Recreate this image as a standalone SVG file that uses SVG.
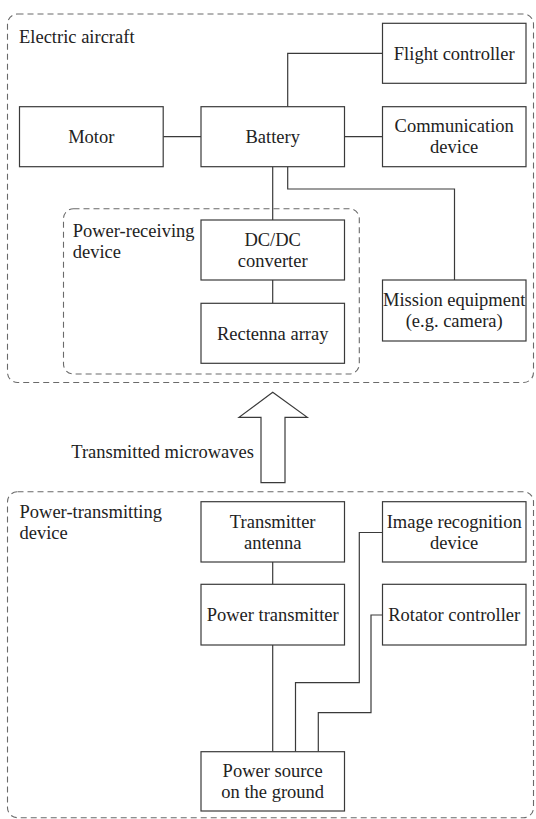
<svg xmlns="http://www.w3.org/2000/svg" width="536" height="819" viewBox="0 0 536 819">
<style>
  .box { fill: #ffffff; stroke: #3a3a3a; stroke-width: 1.2; }
  .grp { fill: none; stroke: #6a6a6a; stroke-width: 1.1; stroke-dasharray: 6 4; }
  .ln { fill: none; stroke: #3a3a3a; stroke-width: 1.2; }
  text { font-family: "Liberation Serif", "Times New Roman", serif; font-size: 18.5px; fill: #222222; }
  .c { text-anchor: middle; }
  .r { text-anchor: end; }
</style>
<rect width="536" height="819" fill="#ffffff"/>

<g id="group-electric-aircraft">
  <rect class="grp" x="7.5" y="14" width="526" height="368.5" rx="10"/>
  <text x="19" y="42.7">Electric aircraft</text>
</g>
<g id="group-power-receiving">
  <rect class="grp" x="63.5" y="208.7" width="295.8" height="165.3" rx="10"/>
  <text x="72.7" y="236.7">Power-receiving</text>
  <text x="72.7" y="257.5">device</text>
</g>
<g id="group-power-transmitting">
  <rect class="grp" x="7.5" y="491.7" width="526" height="326" rx="10"/>
  <text x="19.5" y="518.3">Power-transmitting</text>
  <text x="19.5" y="539.3">device</text>
</g>

<g id="connectors">
  <path class="ln" d="M163.2,136.7 H201"/>
  <path class="ln" d="M344.5,136.7 H382.5"/>
  <path class="ln" d="M287.7,106.7 V53.3 H382.5"/>
  <path class="ln" d="M272.7,166.7 V220"/>
  <path class="ln" d="M287.7,166.7 V189 H454.5 V280"/>
  <path class="ln" d="M272.7,280 V303.3"/>
  <path class="ln" d="M272.7,562 V584.3"/>
  <path class="ln" d="M272.7,645 V751.7"/>
  <path class="ln" d="M382.5,532.5 H359.3 V682.7 H295.5 V751.7"/>
  <path class="ln" d="M382.5,615 H371 V712.7 H318.3 V751.7"/>
</g>

<g id="node-flight-controller">
  <rect class="box" x="382.5" y="23.3" width="143.5" height="60"/>
  <text class="c" x="454.2" y="59.6">Flight controller</text>
</g>
<g id="node-motor">
  <rect class="box" x="19.5" y="106.7" width="143.7" height="60"/>
  <text class="c" x="91.3" y="143">Motor</text>
</g>
<g id="node-battery">
  <rect class="box" x="201" y="106.7" width="143.5" height="60"/>
  <text class="c" x="272.7" y="143">Battery</text>
</g>
<g id="node-communication-device">
  <rect class="box" x="382.5" y="106.7" width="143.5" height="60"/>
  <text class="c" x="454.2" y="132.3">Communication</text>
  <text class="c" x="454.2" y="153.3">device</text>
</g>
<g id="node-dcdc-converter">
  <rect class="box" x="201" y="220" width="143.5" height="60"/>
  <text class="c" x="272.7" y="245.8">DC/DC</text>
  <text class="c" x="272.7" y="266.8">converter</text>
</g>
<g id="node-rectenna-array">
  <rect class="box" x="201" y="303.3" width="143.5" height="60"/>
  <text class="c" x="272.7" y="339.6">Rectenna array</text>
</g>
<g id="node-mission-equipment">
  <rect class="box" x="382.5" y="280" width="143.5" height="61"/>
  <text class="c" x="454.2" y="306.3">Mission equipment</text>
  <text class="c" x="454.2" y="327.3">(e.g. camera)</text>
</g>

<g id="microwave-arrow">
  <polygon points="272.7,392.3 307.3,417.3 285,417.3 285,482.7 261,482.7 261,417.3 239,417.3" fill="#ffffff" stroke="#3a3a3a" stroke-width="1.2" stroke-linejoin="miter"/>
  <text class="r" x="254" y="458.3">Transmitted microwaves</text>
</g>

<g id="node-transmitter-antenna">
  <rect class="box" x="201" y="501.7" width="143.5" height="60.3"/>
  <text class="c" x="272.7" y="527.6">Transmitter</text>
  <text class="c" x="272.7" y="548.6">antenna</text>
</g>
<g id="node-image-recognition">
  <rect class="box" x="382.5" y="501.7" width="143.5" height="60.3"/>
  <text class="c" x="454.2" y="527.6">Image recognition</text>
  <text class="c" x="454.2" y="548.6">device</text>
</g>
<g id="node-power-transmitter">
  <rect class="box" x="201" y="584.3" width="143.5" height="60.7"/>
  <text class="c" x="272.7" y="620.9">Power transmitter</text>
</g>
<g id="node-rotator-controller">
  <rect class="box" x="382.5" y="584.3" width="143.5" height="60.7"/>
  <text class="c" x="454.2" y="620.9">Rotator controller</text>
</g>
<g id="node-power-source">
  <rect class="box" x="201" y="751.7" width="143.5" height="59.3"/>
  <text class="c" x="272.7" y="777.1">Power source</text>
  <text class="c" x="272.7" y="798.1">on the ground</text>
</g>
</svg>
